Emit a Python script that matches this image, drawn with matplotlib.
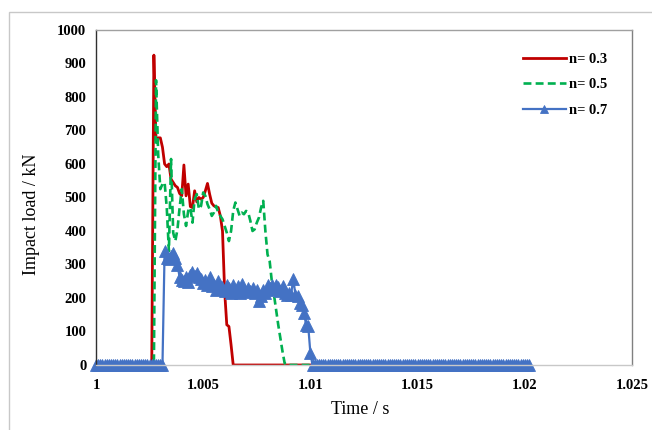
import numpy as np
import matplotlib
matplotlib.use("Agg")
import matplotlib.pyplot as plt
from matplotlib.patches import Rectangle

# impact load (kN) sampled every 0.0001 s starting at t = 1 s
load_n03 = [0] * 27 + [
    925, 672, 678, 678, 650, 600, 592, 600, 555, 545, 535, 530, 512, 505,
    597, 505, 540, 473, 470, 520, 487, 500, 495, 500, 520, 542, 510, 483,
    475, 472, 470, 445, 400, 220, 120, 115, 60] + [0] * 38

load_n05 = [0] * 28 + [
    850, 630, 525, 540, 545, 470, 340, 615, 395, 370, 405, 470, 525, 450,
    415, 460, 470, 425, 495, 510, 465, 475, 515, 505, 480, 465, 445, 455,
    475, 455, 445, 435, 415, 395, 370, 400, 460, 485, 465, 445, 455, 450,
    460, 455, 430, 400, 405, 425, 440, 470, 490, 400, 330, 310, 250, 210,
    165, 120, 80, 40, 5] + [0] * 13

load_n07 = [0] * 32 + [
    340, 320, 315, 325, 335, 320, 300, 262, 255, 250, 262, 248, 270, 278,
    265, 275, 262, 258, 245, 255, 240, 262, 235, 240, 225, 250, 235, 232,
    220, 238, 230, 215, 238, 222, 235, 215, 242, 225, 218, 230, 222, 230,
    215, 225, 190, 205, 225, 215, 240, 230, 238, 225, 240, 232, 222, 235,
    215, 208, 215, 210, 258, 210, 205, 185, 180, 155, 120, 115, 35] + [0] * 102

labels = ["n= 0.3", "n= 0.5", "n= 0.7"]
x_ticks = [1, 1.005, 1.01, 1.015, 1.02, 1.025]
x_tick_labels = ["1", "1.005", "1.01", "1.015", "1.02", "1.025"]
y_ticks = list(range(0, 1001, 100))

dt = 0.0001


def times(series):
    return 1 + dt * np.arange(len(series))


plt.rcParams["font.family"] = ["Liberation Serif", "DejaVu Serif"]

fig = plt.figure(figsize=(6.52, 4.30), dpi=100)
ax = fig.add_axes([96 / 652, 1 - 365 / 430, 536 / 652, 335 / 430])

# outer chart frame
fig.patches.append(Rectangle((9 / 652, -0.1), 2, 1 - 12 / 430 + 0.1,
                             transform=fig.transFigure, fill=False,
                             edgecolor="#c8c8c8", linewidth=1.0))

ax.plot(times(load_n03), load_n03, color="#c00000", lw=2.0, label=labels[0])
ax.plot(times(load_n05), load_n05, color="#00b050", lw=1.9,
        linestyle=(0, (3, 1.6)), label=labels[1])
ax.plot(times(load_n07), load_n07, color="#4472c4", lw=1.6, marker="^",
        markersize=8, markeredgewidth=0.6, clip_on=False, label=labels[2])

ax.set_xlim(1, 1.025)
ax.set_ylim(0, 1000)
ax.set_xticks(x_ticks)
ax.set_xticklabels(x_tick_labels)
ax.set_yticks(y_ticks)
ax.tick_params(length=0, labelsize=10.5)
ax.tick_params(axis="x", pad=10)
ax.tick_params(axis="y", pad=7)
for lab in ax.get_xticklabels() + ax.get_yticklabels():
    lab.set_fontweight("bold")

ax.spines["left"].set_color("#303030")
ax.spines["bottom"].set_color("#c8c8c8")
ax.spines["top"].set_color("#a0a0a0")
ax.spines["right"].set_color("#808080")
for s in ax.spines.values():
    s.set_linewidth(1.0)

ax.set_xlabel("Time / s", fontsize=13)
ax.set_ylabel("Impact load / kN", fontsize=13)
ax.xaxis.set_label_coords(0.4925, -0.107)
ax.yaxis.set_label_coords(-0.104, 0.45)

leg = ax.legend(loc="upper left", bbox_to_anchor=(0.785, 0.95),
                frameon=False, prop={"weight": "bold", "size": 10.5},
                handlelength=3.0, handletextpad=0.2, labelspacing=0.85,
                borderaxespad=0, markerscale=0.8)

fig.savefig("out.png", dpi=100)
